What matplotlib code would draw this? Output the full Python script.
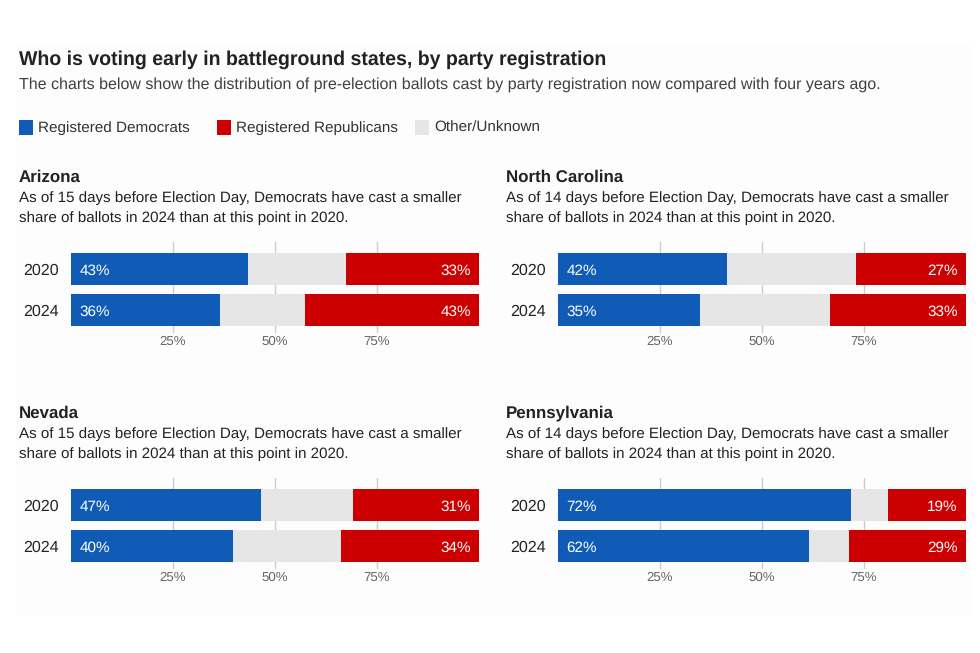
import matplotlib
matplotlib.use('Agg')
import matplotlib.pyplot as plt

plt.rcParams['font.family'] = ['Liberation Sans', 'DejaVu Sans']
plt.rcParams['text.hinting'] = 'no_hinting'

# Data
title = 'Who is voting early in battleground states, by party registration'
subtitle = 'The charts below show the distribution of pre-election ballots cast by party registration now compared with four years ago.'
states = ['Arizona', 'North Carolina', 'Nevada', 'Pennsylvania']
days = [15, 14, 15, 14]
years = ['2020', '2024']
dem = [[43.4, 36.5], [41.4, 34.8], [46.6, 39.7], [71.8, 61.5]]
rep = [[32.6, 42.7], [27.0, 33.3], [30.9, 33.8], [19.1, 28.7]]
dem_labels = [['43%', '36%'], ['42%', '35%'], ['47%', '40%'], ['72%', '62%']]
rep_labels = [['33%', '43%'], ['27%', '33%'], ['31%', '34%'], ['19%', '29%']]
legend_names = ['Registered Democrats', 'Registered Republicans', 'Other/Unknown']

BLUE = '#0f5bb5'
RED = '#cc0000'
GREY = '#e6e6e6'
W, H = 980, 653

fig = plt.figure(figsize=(W / 100, H / 100), dpi=100, facecolor='white')

# faint panel behind everything
fig.patches.append(plt.Rectangle((16 / W, 1 - 615 / H), 954 / W, 570 / H, transform=fig.transFigure,
                                 facecolor='#fdfdfd', edgecolor='none', zorder=-5))


def px_text(x, y, s, **kw):
    fig.text(x / W, 1 - y / H, s, va='baseline', **kw)


px_text(18.5, 64.5, title, fontsize=14.05, fontweight='bold', color='#222222')
px_text(18.5, 88.5, subtitle, fontsize=11.5, color='#404040')

# Legend
for x, name, col, tx in zip([19, 217, 415], legend_names, [BLUE, RED, GREY], [38, 236, 434]):
    fig.patches.append(plt.Rectangle((x / W, 1 - 134.5 / H), 14 / W, 15 / H, transform=fig.transFigure,
                                     facecolor=col, edgecolor='none'))
    px_text(tx, 131.5, name, fontsize=11, color='#333333')

# Panels
lefts = [71, 558, 71, 558]
tops = [242, 242, 478, 478]
for i, state in enumerate(states):
    left, top = lefts[i], tops[i]
    tx = left - 52.5
    px_text(tx, top - 60.5, state, fontsize=12.2, fontweight='bold', color='#222222')
    px_text(tx, top - 40, f'As of {days[i]} days before Election Day, Democrats have cast a smaller',
            fontsize=10.9, color='#222222')
    px_text(tx, top - 20, 'share of ballots in 2024 than at this point in 2020.', fontsize=10.9, color='#222222')

    ax = fig.add_axes([left / W, 1 - (top + 91) / H, 408 / W, 91 / H])
    ax.set_facecolor('none')
    ax.set_axisbelow(True)
    other = [100 - d - r for d, r in zip(dem[i], rep[i])]
    ax.barh(years, dem[i], height=0.78, color=BLUE)
    ax.barh(years, other, left=dem[i], height=0.78, color=GREY)
    ax.barh(years, rep[i], left=[d + o for d, o in zip(dem[i], other)], height=0.78, color=RED)
    ax.set_xlim(0, 100)
    ax.set_ylim(1.561, -0.659)
    ax.set_xticks([25, 50, 75])
    ax.set_xticklabels(['25%', '50%', '75%'])
    ax.grid(axis='x', color='#cccccc', linewidth=1)
    ax.tick_params(axis='x', length=0, pad=2, labelsize=9.5, labelcolor='#666666')
    ax.tick_params(axis='y', length=0, pad=8.5, labelsize=11.5, labelcolor='#222222')
    for s in ax.spines.values():
        s.set_visible(False)
    for j in range(2):
        ax.text(2, j, dem_labels[i][j], color='white', fontsize=11, va='center_baseline', ha='left')
        ax.text(98, j, rep_labels[i][j], color='white', fontsize=11, va='center_baseline', ha='right')

fig.savefig('out.png', dpi=100, facecolor=fig.get_facecolor())
